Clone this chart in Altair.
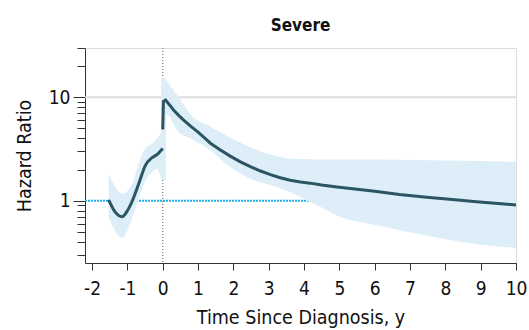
import altair as alt
import pandas as pd

# Pre-diagnosis hazard ratio curve
pre_x = [-1.53, -1.35, -1.15, -1.0, -0.86, -0.68, -0.49, -0.30, -0.16, 0.0]
pre_hr = [1.02, 0.78, 0.70, 0.80, 1.00, 1.46, 2.20, 2.61, 2.80, 3.20]

# Post-diagnosis hazard ratio curve
post_x = [0.0, 0.02, 0.08, 0.2, 0.3, 0.45, 0.6, 0.78, 1.0, 1.2, 1.35, 1.6, 1.91, 2.2, 2.48, 2.75,
          3.05, 3.3, 3.61, 3.9, 4.17, 4.5, 4.93, 5.5, 6.06, 6.7, 7.47, 8.2, 8.88, 9.5, 10.0]
post_hr = [4.9, 9.1, 9.4, 8.4, 7.6, 6.7, 6.0, 5.3, 4.6, 4.0, 3.6, 3.15, 2.70, 2.38, 2.14, 1.95,
           1.79, 1.68, 1.58, 1.52, 1.48, 1.42, 1.36, 1.29, 1.23, 1.15, 1.08, 1.03, 0.98, 0.94, 0.91]

# Confidence band, pre-diagnosis
pre_band_x = [-1.53, -1.15, -0.86, -0.68, -0.49, -0.30, -0.16, -0.04]
pre_band_lo = [0.69, 0.44, 0.69, 1.05, 1.57, 1.90, 2.04, 1.60]
pre_band_hi = [1.83, 1.17, 1.46, 2.29, 3.20, 3.57, 4.00, 4.60]

# Confidence band, post-diagnosis
post_band_x = [-0.05, 0.09, 0.10, 0.45, 0.78, 1.35, 1.91, 2.48, 3.05, 3.61, 4.17, 4.45, 4.93, 6.06, 7.47, 8.88, 10.0]
post_band_lo = [1.60, 1.60, 6.9, 4.6, 4.0, 3.08, 2.12, 1.63, 1.41, 1.21, 0.97, 0.88, 0.72, 0.58, 0.46, 0.38, 0.35]
post_band_hi = [15.6, 15.0, 14.8, 10.1, 6.9, 5.2, 4.1, 3.3, 2.8, 2.56, 2.52, 2.5, 2.5, 2.5, 2.46, 2.42, 2.37]

x_ticks = [-2, -1, 0, 1, 2, 3, 4, 5, 6, 7, 8, 9, 10]
y_ticks = [0.3, 0.4, 0.5, 0.6, 0.7, 0.8, 0.9, 1, 2, 3, 4, 5, 6, 7, 8, 9, 10, 20, 30]

FONT = "DejaVu Sans Condensed"
LINE_COLOR = "#2b5562"
BAND_COLOR = "#deeef8"

pre_line_df = pd.DataFrame({"x": pre_x, "hr": pre_hr, "ord": list(range(len(pre_x)))})
post_line_df = pd.DataFrame({"x": post_x, "hr": post_hr, "ord": list(range(len(post_x)))})
pre_band_df = pd.DataFrame({"x": pre_band_x, "lo": pre_band_lo, "hi": pre_band_hi})
post_band_df = pd.DataFrame({"x": post_band_x, "lo": post_band_lo, "hi": post_band_hi})

xscale = alt.Scale(domain=[-2.2, 10], nice=False, zero=False)
yscale = alt.Scale(type="log", domain=[0.25, 30], nice=False)

MAJOR = "datum.value == 1 || datum.value == 10"

x_axis = alt.Axis(values=x_ticks, title="Time Since Diagnosis, y", grid=False,
                  tickSize=7, tickColor="#333", domainColor="#333", labelFontSize=19,
                  labelColor="#111", labelFont=FONT, titleFont=FONT, titleFontSize=19.5,
                  titleFontWeight="normal", titleColor="#111", labelPadding=9, titlePadding=10,
                  labelFlush=False, labelExpr="toString(datum.value)")
y_axis = alt.Axis(values=y_ticks, title="Hazard Ratio", grid=False,
                  tickSize={"condition": {"test": MAJOR, "value": 12}, "value": 8},
                  tickColor="#333", domainColor="#333", labelFontSize=19, labelColor="#111",
                  labelFont=FONT, titleFont=FONT, titleFontSize=19.5, titleFontWeight="normal",
                  titleColor="#111", labelPadding=3, titlePadding=14,
                  labelExpr=f"({MAJOR}) ? toString(datum.value) : ''", orient="left")

X = alt.X("x:Q", scale=xscale, axis=x_axis)


def Y(field):
    return alt.Y(field, scale=yscale, axis=y_axis)


grid10 = alt.Chart(pd.DataFrame({"y": [10]})).mark_rule(color="#dedede", strokeWidth=2).encode(
    y=Y("y:Q")
)
ref1 = alt.Chart(pd.DataFrame({"y": [1]})).mark_rule(
    color="#22b0ec", strokeWidth=2, strokeDash=[2, 1]).encode(y=Y("y:Q"))
vline = alt.Chart(pd.DataFrame({"x": [0]})).mark_rule(
    color="#777", strokeWidth=1.2, strokeDash=[1, 2]).encode(x=X)


def band_layer(df):
    return alt.Chart(df).mark_area(color=BAND_COLOR, opacity=1, interpolate="monotone").encode(
        x=X,
        y=alt.Y("lo:Q", scale=yscale, axis=y_axis, stack=None),
        y2="hi:Q",
    )


pre_band = band_layer(pre_band_df)
post_band = band_layer(post_band_df)

pre_line = alt.Chart(pre_line_df).mark_line(color=LINE_COLOR, strokeWidth=3, interpolate="monotone").encode(
    x=X, y=Y("hr:Q"), order="ord:Q",
)
post_line = alt.Chart(post_line_df).mark_line(color=LINE_COLOR, strokeWidth=3, interpolate="linear").encode(
    x=X, y=Y("hr:Q"), order="ord:Q",
)

chart = alt.layer(grid10, ref1, vline, pre_band, post_band, pre_line, post_line).properties(
    width=431,
    height=215,
    autosize=alt.AutoSizeParams(type="none"),
    padding={"left": 85, "top": 48, "right": 13, "bottom": 67},
    title=alt.TitleParams("Severe", font=FONT, fontSize=17, fontWeight="bold", color="#111",
                          anchor="middle", offset=12),
).configure_view(stroke=None).configure(background="white")

chart.save("out.html", embed_options={"renderer": "svg", "actions": False})
